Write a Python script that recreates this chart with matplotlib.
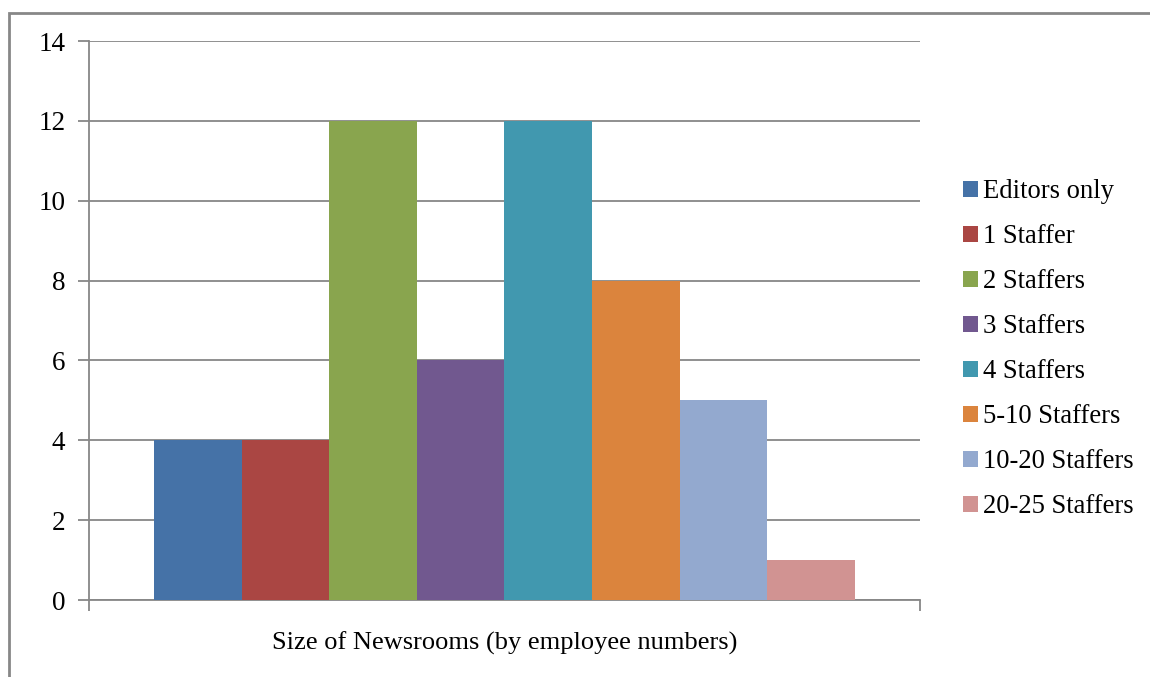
import matplotlib.pyplot as plt
from matplotlib.patches import Rectangle, Patch

# data
serien = ["Editors only", "1 Staffer", "2 Staffers", "3 Staffers", "4 Staffers",
          "5-10 Staffers", "10-20 Staffers", "20-25 Staffers"]
vaerdier = [4, 4, 12, 6, 12, 8, 5, 1]
farver = ["#4572A7", "#AA4643", "#89A54E", "#71588F", "#4198AF",
          "#DB843D", "#93A9CF", "#D19392"]
yticks = [0, 2, 4, 6, 8, 10, 12, 14]
xlabel = "Size of Newsrooms (by employee numbers)"

plt.rcParams['font.family'] = ['Liberation Serif', 'DejaVu Serif']
graa = "#878787"

fig = plt.figure(figsize=(11.5, 6.77), dpi=100)
W, H = 1150, 677
ax = fig.add_axes([89 / W, 1 - 600 / H, (920 - 89) / W, (600 - 41) / H])

gruppe = 701 / 831
bredde = gruppe / len(vaerdier)
start = -gruppe / 2
for i, (navn, v, f) in enumerate(zip(serien, vaerdier, farver)):
    ax.bar(start + bredde * (i + 0.5), v, width=bredde, color=f, label=navn,
           zorder=3, linewidth=0)

ax.set_xlim(-0.5, 0.5)
ax.set_ylim(0, 14)
ax.set_yticks(yticks)
ax.set_yticklabels([str(t) for t in yticks], fontsize=19.5)
ax.yaxis.grid(True, color=graa, linewidth=1.3, zorder=0)
ax.set_xticks([-0.5, 0.5])
ax.set_xticklabels(["", ""])
ax.tick_params(axis='both', color=graa, width=1.3, length=8, direction='out')
ax.tick_params(axis='y', pad=9)
for s in ["top", "right"]:
    ax.spines[s].set_visible(False)
for s in ["left", "bottom"]:
    ax.spines[s].set_color(graa)
    ax.spines[s].set_linewidth(1.3)
ax.set_xlabel(xlabel, fontsize=19, labelpad=11)

handles = [Patch(facecolor=f, label=n) for n, f in zip(serien, farver)]
fig.legend(handles=handles, loc="center left", bbox_to_anchor=(950 / W, 1 - 349 / H),
           frameon=False, fontsize=19.2, handlelength=0.55, handleheight=0.55,
           handletextpad=0.2, labelspacing=0.75, borderpad=0)

# outer chart frame
fig.patches.append(Rectangle((9 / W, -0.05), 1.2, 1 - 13 / H + 0.05, transform=fig.transFigure,
                             fill=False, edgecolor=graa, linewidth=2))

fig.savefig("out.png", dpi=100)
